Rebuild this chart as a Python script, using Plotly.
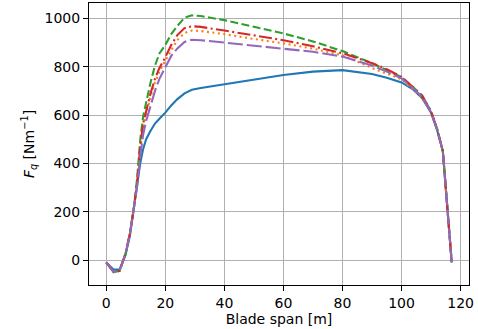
import plotly.graph_objects as go

span = [0, 2.5, 4.5, 6.5, 8, 9.5, 10.5, 11.5, 12.5, 13.5, 15, 16.5, 18, 20, 22, 24, 26.5, 29, 32,
        40, 50, 60, 70, 80, 90, 95, 100, 104, 107, 110, 112, 114, 115.5, 117]

series_blue = [-10, -40, -40, 20, 100, 225, 300, 400, 460, 500, 535, 565, 585, 610, 640, 665, 690, 705, 712,
               727, 748, 766, 780, 786, 770, 755, 735, 705, 670, 610, 540, 450, 215, -10]
series_orange = [-10, -50, -45, 25, 110, 225, 325, 460, 550, 600, 675, 735, 780, 825, 870, 910, 940, 950, 948,
                 935, 915, 897, 875, 848, 795, 772, 748, 705, 672, 610, 540, 450, 215, -10]
series_green = [-10, -50, -45, 25, 110, 228, 345, 497, 595, 655, 735, 805, 855, 890, 935, 968, 1003, 1013, 1010,
                993, 965, 938, 905, 865, 815, 785, 757, 715, 680, 615, 545, 450, 215, -10]
series_red = [-10, -50, -45, 25, 110, 228, 330, 470, 565, 615, 690, 750, 795, 840, 890, 930, 960, 968, 965,
              950, 930, 910, 885, 856, 815, 790, 758, 715, 680, 615, 545, 450, 215, -10]
series_purple = [-10, -50, -45, 25, 105, 220, 310, 430, 520, 575, 640, 700, 750, 800, 845, 875, 903, 912, 910,
                 900, 888, 876, 862, 842, 805, 780, 752, 710, 675, 612, 543, 450, 215, -10]

x_ticks = [0, 20, 40, 60, 80, 100, 120]
y_ticks = [0, 200, 400, 600, 800, 1000]

styles = [
    (series_blue, "#1f77b4", "solid"),
    (series_orange, "#ff7f0e", "2px,3.5px"),
    (series_green, "#2ca02c", "8px,3.4px"),
    (series_red, "#d62728", "13px,3.4px,2px,3.4px"),
    (series_purple, "#9467bd", "15px,4px"),
]

fig = go.Figure()
for ys, col, dash in styles:
    fig.add_trace(go.Scatter(x=span, y=ys, mode="lines",
                             line=dict(color=col, width=2.1, dash=dash),
                             showlegend=False))

axis_common = dict(
    showline=True, linecolor="black", linewidth=1.1, mirror=True,
    ticks="outside", ticklen=5, tickwidth=1, tickcolor="black",
    showgrid=True, gridcolor="#b0b0b0", gridwidth=1, zeroline=False,
    tickfont=dict(family="DejaVu Sans", size=14, color="black"),
    automargin=False,
)

fig.update_layout(
    width=478, height=329,
    margin=dict(l=89, r=9, t=3, b=44),
    paper_bgcolor="white", plot_bgcolor="white",
    font=dict(family="DejaVu Sans", size=14, color="black"),
    xaxis=dict(range=[-5.85, 122.85], tickvals=x_ticks,
               title=dict(text="Blade span [m]", standoff=2, font=dict(size=14)),
               **axis_common),
    yaxis=dict(range=[-103.5, 1064], tickvals=y_ticks,
               title=dict(text="<i>F</i><sub><i>q</i></sub> [Nm<sup>−1</sup>]", standoff=6, font=dict(size=14)),
               **axis_common),
)

fig.write_html("out.html",
               config={"displayModeBar": False},
               post_script="document.body.style.margin='0';document.body.style.padding='0';document.body.style.overflow='hidden';")
